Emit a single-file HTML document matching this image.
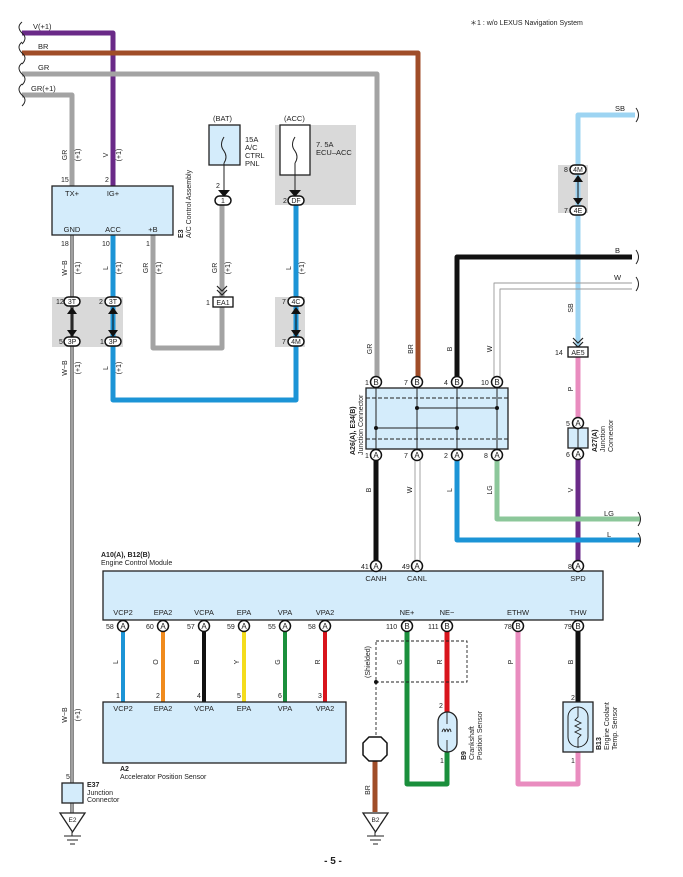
<!DOCTYPE html>
<html><head><meta charset="utf-8"><style>
html,body{margin:0;padding:0;background:#fff}
svg{display:block}
text{font-family:"Liberation Sans",sans-serif;fill:#222}
</style></head><body>
<svg width="683" height="877" viewBox="0 0 683 877" xmlns="http://www.w3.org/2000/svg">
<defs>
<g id="pinA"><circle r="5.5" fill="#fff" stroke="#111" stroke-width="1.5"/><text y="3" text-anchor="middle" font-size="8">A</text></g>
<g id="pinB"><circle r="5.5" fill="#fff" stroke="#111" stroke-width="1.5"/><text y="3" text-anchor="middle" font-size="8">B</text></g>
</defs>
<rect x="275" y="125" width="81" height="80" fill="#d9d9d9"/>
<rect x="52" y="297" width="71" height="50" fill="#d9d9d9"/>
<rect x="275" y="297" width="30" height="50" fill="#d9d9d9"/>
<rect x="558" y="165" width="30" height="48" fill="#d9d9d9"/>
<text x="470" y="25" font-size="7">＊1 : w/o LEXUS Navigation System</text>

<g fill="none" stroke-linejoin="round">
<polyline points="22,33 113,33 113,186" stroke="#6a2a88" stroke-width="5"/>
<polyline points="22,53 418,53 418,377" stroke="#a04d28" stroke-width="5"/>
<polyline points="22,74 377,74 377,377" stroke="#a3a3a3" stroke-width="5"/>
<polyline points="22,95 72,95 72,186" stroke="#a3a3a3" stroke-width="5"/>
<polyline points="72,235 72,813" stroke="#111" stroke-width="3"/>
<polyline points="72,235 72,813" stroke="#fff" stroke-width="1.2"/>
<polyline points="113,235 113,400 296,400 296,205" stroke="#1c94d6" stroke-width="5"/>
<polyline points="153,235 153,348 222,348 222,200" stroke="#a3a3a3" stroke-width="5"/>
<polyline points="635,115 578,115 578,352" stroke="#9dd4f2" stroke-width="5"/>
<polyline points="578,352 578,423" stroke="#e98cbf" stroke-width="5"/>
<polyline points="578,455 578,566" stroke="#6a2a88" stroke-width="5"/>
<polyline points="632,257 457,257 457,377" stroke="#111" stroke-width="5"/>
<polyline points="632,283 494,283 494,377" stroke="#999" stroke-width="0.9"/>
<polyline points="632,289 500,289 500,377" stroke="#999" stroke-width="0.9"/>
<polyline points="376,460 376,566" stroke="#111" stroke-width="5"/>
<polyline points="415,460 415,566" stroke="#999" stroke-width="0.9"/>
<polyline points="420,460 420,566" stroke="#999" stroke-width="0.9"/>
<polyline points="457,460 457,540 640,540" stroke="#1c94d6" stroke-width="5"/>
<polyline points="497,460 497,519 640,519" stroke="#8cc79a" stroke-width="5"/>
<line x1="123" y1="630" x2="123" y2="702" stroke="#1c94d6" stroke-width="4"/>
<line x1="163" y1="630" x2="163" y2="702" stroke="#f08a1c" stroke-width="4"/>
<line x1="204" y1="630" x2="204" y2="702" stroke="#111" stroke-width="4"/>
<line x1="244" y1="630" x2="244" y2="702" stroke="#f4dc1c" stroke-width="4"/>
<line x1="285" y1="630" x2="285" y2="702" stroke="#1a8f3c" stroke-width="4"/>
<line x1="325" y1="630" x2="325" y2="702" stroke="#d8141c" stroke-width="4"/>
<polyline points="407,630 407,784 447,784 447,752" stroke="#1a8f3c" stroke-width="5"/>
<polyline points="447,630 447,712" stroke="#d8141c" stroke-width="5"/>
<polyline points="518,630 518,784 578,784 578,752" stroke="#e98cbf" stroke-width="5"/>
<polyline points="578,630 578,702" stroke="#111" stroke-width="5"/>
<polyline points="375,760 375,812" stroke="#a04d28" stroke-width="5"/>
<rect x="376" y="641" width="91" height="41" stroke="#222" stroke-width="0.9" stroke-dasharray="3,2"/>
<line x1="376" y1="682" x2="376" y2="737" stroke="#222" stroke-width="0.9" stroke-dasharray="3,2"/>
</g>
<circle cx="376" cy="682" r="2" fill="#111"/>
<polygon points="369,737 381,737 387,743 387,755 381,761 369,761 363,755 363,743" fill="#fff" stroke="#111" stroke-width="1.5"/>

<g fill="none" stroke="#222" stroke-width="1">
<path d="M22,22 q-6,5 0,11 q6,5 0,11"/>
<path d="M22,42 q-6,5 0,11 q6,5 0,11"/>
<path d="M22,63 q-6,5 0,11 q6,5 0,11"/>
<path d="M22,84 q-6,5 0,11 q6,5 0,11"/>
<path d="M636,108 q5,7 0,14"/><path d="M636,250 q5,7 0,14"/><path d="M636,277 q5,7 0,14"/>
<path d="M638,512 q5,7 0,14"/><path d="M638,533 q5,7 0,14"/>
</g>

<g font-size="7.5">
<text x="33" y="29">V(+1)</text><text x="38" y="49">BR</text><text x="38" y="70">GR</text><text x="31" y="91">GR(+1)</text>
<text x="615" y="111">SB</text><text x="615" y="253">B</text><text x="614" y="280">W</text>
<text x="604" y="516">LG</text><text x="607" y="537">L</text>
</g>
<g font-size="7" text-anchor="middle">
<text transform="translate(67,155) rotate(-90)">GR</text><text transform="translate(80,155) rotate(-90)">(+1)</text>
<text transform="translate(108,155) rotate(-90)">V</text><text transform="translate(121,155) rotate(-90)">(+1)</text>
<text transform="translate(67,268) rotate(-90)">W−B</text><text transform="translate(80,268) rotate(-90)">(+1)</text>
<text transform="translate(108,268) rotate(-90)">L</text><text transform="translate(121,268) rotate(-90)">(+1)</text>
<text transform="translate(148,268) rotate(-90)">GR</text><text transform="translate(161,268) rotate(-90)">(+1)</text>
<text transform="translate(217,268) rotate(-90)">GR</text><text transform="translate(230,268) rotate(-90)">(+1)</text>
<text transform="translate(291,268) rotate(-90)">L</text><text transform="translate(304,268) rotate(-90)">(+1)</text>
<text transform="translate(67,368) rotate(-90)">W−B</text><text transform="translate(80,368) rotate(-90)">(+1)</text>
<text transform="translate(108,368) rotate(-90)">L</text><text transform="translate(121,368) rotate(-90)">(+1)</text>
<text transform="translate(67,715) rotate(-90)">W−B</text><text transform="translate(80,715) rotate(-90)">(+1)</text>
<text transform="translate(372,349) rotate(-90)">GR</text><text transform="translate(413,349) rotate(-90)">BR</text>
<text transform="translate(452,349) rotate(-90)">B</text><text transform="translate(492,349) rotate(-90)">W</text>
<text transform="translate(573,308) rotate(-90)">SB</text><text transform="translate(573,389) rotate(-90)">P</text>
<text transform="translate(573,490) rotate(-90)">V</text>
<text transform="translate(371,490) rotate(-90)">B</text><text transform="translate(412,490) rotate(-90)">W</text>
<text transform="translate(452,490) rotate(-90)">L</text><text transform="translate(492,490) rotate(-90)">LG</text>
<text transform="translate(118,662) rotate(-90)">L</text><text transform="translate(158,662) rotate(-90)">O</text>
<text transform="translate(199,662) rotate(-90)">B</text><text transform="translate(239,662) rotate(-90)">Y</text>
<text transform="translate(280,662) rotate(-90)">G</text><text transform="translate(320,662) rotate(-90)">R</text>
<text transform="translate(402,662) rotate(-90)">G</text><text transform="translate(442,662) rotate(-90)">R</text>
<text transform="translate(513,662) rotate(-90)">P</text><text transform="translate(573,662) rotate(-90)">B</text>
<text transform="translate(370,790) rotate(-90)">BR</text>
<text transform="translate(370,662) rotate(-90)">(Shielded)</text>
</g>

<rect x="52" y="186" width="121" height="49" fill="#d4ecfb" stroke="#222" stroke-width="1.3"/>
<g font-size="7.5" text-anchor="middle">
<text x="72" y="196">TX+</text><text x="113" y="196">IG+</text>
<text x="72" y="232">GND</text><text x="113" y="232">ACC</text><text x="153" y="232">+B</text>
</g>
<g font-size="7"><text x="61" y="182">15</text><text x="105" y="182">2</text>
<text x="61" y="246">18</text><text x="102" y="246">10</text><text x="146" y="246">1</text></g>
<text transform="translate(183,238) rotate(-90)" font-size="7"><tspan font-weight="bold">E3</tspan><tspan x="0" dy="8">A/C Control Assembly</tspan></text>

<rect x="209" y="125" width="31" height="40" fill="#d4ecfb" stroke="#222" stroke-width="1.3"/>
<rect x="280" y="125" width="30" height="50" fill="#fff" stroke="#222" stroke-width="1.3"/>
<g fill="none" stroke="#222" stroke-width="1"><path d="M224,137 q-5,8 0,14 q4,6 0,12"/><path d="M295,137 q-5,8 0,14 q4,6 0,12"/>
<line x1="224" y1="163" x2="224" y2="193"/><line x1="295" y1="163" x2="295" y2="193"/></g>
<g font-size="7.5"><text x="213" y="121">(BAT)</text><text x="284" y="121">(ACC)</text>
<text x="245" y="142">15A</text><text x="245" y="150">A/C</text><text x="245" y="158">CTRL</text><text x="245" y="166">PNL</text>
<text x="316" y="147">7. 5A</text><text x="316" y="155">ECU–ACC</text>
<text x="216" y="188" font-size="7">2</text></g>
<g fill="#111"><polygon points="218,190 230,190 224,197"/><polygon points="289,190 301,190 295,197"/></g>

<g font-size="7" text-anchor="middle">
<g stroke="#111" stroke-width="1.5" fill="#fff">
<rect x="215" y="196" width="16" height="9" rx="4.5"/>
<rect x="288" y="196" width="16" height="9" rx="4.5"/>
<rect x="64" y="297" width="16" height="9" rx="4.5"/><rect x="105" y="297" width="16" height="9" rx="4.5"/>
<rect x="64" y="337" width="16" height="9" rx="4.5"/><rect x="105" y="337" width="16" height="9" rx="4.5"/>
<rect x="288" y="297" width="16" height="9" rx="4.5"/><rect x="288" y="337" width="16" height="9" rx="4.5"/>
<rect x="570" y="165" width="16" height="9" rx="4.5"/><rect x="570" y="206" width="16" height="9" rx="4.5"/>
</g>
<text x="223" y="203">1</text><text x="296" y="203">DF</text>
<text x="72" y="304">3T</text><text x="113" y="304">3T</text><text x="72" y="344">3P</text><text x="113" y="344">3P</text>
<text x="296" y="304">4C</text><text x="296" y="344">4M</text>
<text x="578" y="172">4M</text><text x="578" y="213">4E</text>
</g>
<g font-size="7"><text x="283" y="203">2</text><text x="56" y="304">12</text><text x="99" y="304">2</text>
<text x="59" y="344">5</text><text x="100" y="344">1</text><text x="282" y="304">7</text><text x="282" y="344">7</text>
<text x="564" y="172">8</text><text x="564" y="213">7</text></g>
<g stroke="#111" stroke-width="1"><line x1="72" y1="310" x2="72" y2="334"/><line x1="113" y1="310" x2="113" y2="334"/>
<line x1="296" y1="310" x2="296" y2="334"/><line x1="578" y1="178" x2="578" y2="202"/></g>
<g fill="#111">
<polygon points="67,314 72,307 77,314"/><polygon points="67,330 72,337 77,330"/>
<polygon points="108,314 113,307 118,314"/><polygon points="108,330 113,337 118,330"/>
<polygon points="291,314 296,307 301,314"/><polygon points="291,330 296,337 301,330"/>
<polygon points="573,182 578,175 583,182"/><polygon points="573,198 578,205 583,198"/>
</g>
<g fill="none" stroke="#222" stroke-width="1.2"><polyline points="217,286 222,291 227,286"/><polyline points="217,290 222,295 227,290"/>
<polyline points="573,338 578,343 583,338"/><polyline points="573,342 578,347 583,342"/></g>
<rect x="213" y="297" width="20" height="10" fill="#fff" stroke="#111" stroke-width="1.3"/>
<text x="223" y="305" font-size="7" text-anchor="middle">EA1</text><text x="206" y="305" font-size="7">1</text>
<rect x="568" y="347" width="20" height="10" fill="#fff" stroke="#111" stroke-width="1.3"/>
<text x="578" y="355" font-size="7" text-anchor="middle">AE5</text><text x="555" y="355" font-size="7">14</text>

<rect x="366" y="388" width="142" height="61" fill="#d4ecfb" stroke="#222" stroke-width="1.3"/>
<g stroke="#222" stroke-width="1"><line x1="366" y1="398" x2="508" y2="398" stroke-dasharray="4,2"/><line x1="366" y1="439" x2="508" y2="439" stroke-dasharray="4,2"/>
<line x1="376" y1="388" x2="376" y2="449"/><line x1="417" y1="388" x2="417" y2="449"/><line x1="457" y1="388" x2="457" y2="449"/><line x1="497" y1="388" x2="497" y2="449"/>
<line x1="417" y1="408" x2="497" y2="408"/><line x1="376" y1="428" x2="457" y2="428"/></g>
<g fill="#111"><circle cx="417" cy="408" r="2"/><circle cx="497" cy="408" r="2"/><circle cx="376" cy="428" r="2"/><circle cx="457" cy="428" r="2"/></g>
<use href="#pinB" x="376" y="382"/><use href="#pinB" x="417" y="382"/><use href="#pinB" x="457" y="382"/><use href="#pinB" x="497" y="382"/>
<use href="#pinA" x="376" y="455"/><use href="#pinA" x="417" y="455"/><use href="#pinA" x="457" y="455"/><use href="#pinA" x="497" y="455"/>
<g font-size="7"><text x="365" y="385">1</text><text x="404" y="385">7</text><text x="444" y="385">4</text><text x="481" y="385">10</text>
<text x="365" y="458">1</text><text x="404" y="458">7</text><text x="444" y="458">2</text><text x="484" y="458">8</text></g>
<text transform="translate(355,455) rotate(-90)" font-size="7"><tspan font-weight="bold">A26(A), E34(B)</tspan><tspan x="0" dy="8">Junction Connector</tspan></text>
<rect x="568" y="428" width="20" height="20" fill="#d4ecfb" stroke="#222" stroke-width="1.3"/>
<line x1="578" y1="428" x2="578" y2="448" stroke="#222"/>
<use href="#pinA" x="578" y="423"/><use href="#pinA" x="578" y="454"/>
<g font-size="7"><text x="566" y="426">5</text><text x="566" y="457">6</text></g>
<text transform="translate(597,452) rotate(-90)" font-size="7"><tspan font-weight="bold">A27(A)</tspan><tspan x="0" dy="8">Junction</tspan><tspan x="0" dy="8">Connector</tspan></text>

<rect x="103" y="571" width="500" height="49" fill="#d4ecfb" stroke="#222" stroke-width="1.3"/>
<text x="101" y="557" font-size="7" font-weight="bold">A10(A), B12(B)</text>
<text x="101" y="565" font-size="7">Engine Control Module</text>
<use href="#pinA" x="376" y="566"/><use href="#pinA" x="417" y="566"/><use href="#pinA" x="578" y="566"/>
<g font-size="7"><text x="361" y="569">41</text><text x="402" y="569">49</text><text x="568" y="569">8</text></g>
<g font-size="7.5" text-anchor="middle">
<text x="376" y="581">CANH</text><text x="417" y="581">CANL</text><text x="578" y="581">SPD</text>
<text x="123" y="615">VCP2</text><text x="163" y="615">EPA2</text><text x="204" y="615">VCPA</text><text x="244" y="615">EPA</text>
<text x="285" y="615">VPA</text><text x="325" y="615">VPA2</text><text x="407" y="615">NE+</text><text x="447" y="615">NE−</text>
<text x="518" y="615">ETHW</text><text x="578" y="615">THW</text>
</g>
<use href="#pinA" x="123" y="626"/><use href="#pinA" x="163" y="626"/><use href="#pinA" x="204" y="626"/><use href="#pinA" x="244" y="626"/><use href="#pinA" x="285" y="626"/><use href="#pinA" x="325" y="626"/>
<use href="#pinB" x="407" y="626"/><use href="#pinB" x="447" y="626"/><use href="#pinB" x="518" y="626"/><use href="#pinB" x="578" y="626"/>
<g font-size="7"><text x="106" y="629">58</text><text x="146" y="629">60</text><text x="187" y="629">57</text><text x="227" y="629">59</text>
<text x="268" y="629">55</text><text x="308" y="629">58</text><text x="386" y="629">110</text><text x="428" y="629">111</text>
<text x="504" y="629">78</text><text x="564" y="629">79</text></g>

<rect x="103" y="702" width="243" height="61" fill="#d4ecfb" stroke="#222" stroke-width="1.3"/>
<g font-size="7.5" text-anchor="middle">
<text x="123" y="711">VCP2</text><text x="163" y="711">EPA2</text><text x="204" y="711">VCPA</text><text x="244" y="711">EPA</text><text x="285" y="711">VPA</text><text x="325" y="711">VPA2</text></g>
<g font-size="7"><text x="116" y="698">1</text><text x="156" y="698">2</text><text x="197" y="698">4</text><text x="237" y="698">5</text><text x="278" y="698">6</text><text x="318" y="698">3</text></g>
<text x="120" y="771" font-size="7" font-weight="bold">A2</text>
<text x="120" y="779" font-size="7">Accelerator Position Sensor</text>

<rect x="438" y="712" width="19" height="40" rx="9.5" fill="#d4ecfb" stroke="#222" stroke-width="1.3"/>
<path d="M447,712 v12 M447,740 v12 M442,732 q2,-6 3,0 q2,-6 3,0 q2,-6 3,0" fill="none" stroke="#222" stroke-width="0.9"/>
<g font-size="7"><text x="439" y="708">2</text><text x="440" y="763">1</text><text x="571" y="700">2</text><text x="571" y="763">1</text></g>
<text transform="translate(466,760) rotate(-90)" font-size="7"><tspan font-weight="bold">B9</tspan><tspan x="0" dy="8">Crankshaft</tspan><tspan x="0" dy="8">Position Sensor</tspan></text>
<rect x="563" y="702" width="30" height="50" fill="#d4ecfb" stroke="#222" stroke-width="1.3"/>
<rect x="568" y="707" width="20" height="40" rx="10" fill="none" stroke="#222" stroke-width="1"/>
<path d="M578,707 v10 l-3,3 l6,3 l-6,3 l6,3 l-6,3 l6,3 l-3,3 v10" fill="none" stroke="#222" stroke-width="0.9"/>
<text transform="translate(601,750) rotate(-90)" font-size="7"><tspan font-weight="bold">B13</tspan><tspan x="0" dy="8">Engine Coolant</tspan><tspan x="0" dy="8">Temp.  Sensor</tspan></text>

<rect x="62" y="783" width="21" height="20" fill="#d4ecfb" stroke="#222" stroke-width="1.3"/>
<text x="66" y="779" font-size="7">5</text>
<text x="87" y="787" font-size="7" font-weight="bold">E37</text>
<text x="87" y="795" font-size="7">Junction</text><text x="87" y="802" font-size="7">Connector</text>
<g fill="#fff" stroke="#222" stroke-width="1.3">
<polygon points="60,813 85,813 72.5,832"/><polygon points="363,813 388,813 375.5,832"/></g>
<g stroke="#222" stroke-width="1"><line x1="72" y1="832" x2="72" y2="836"/><line x1="64" y1="836" x2="81" y2="836"/><line x1="67" y1="840" x2="78" y2="840"/><line x1="70" y1="844" x2="75" y2="844"/>
<line x1="375" y1="832" x2="375" y2="836"/><line x1="367" y1="836" x2="384" y2="836"/><line x1="370" y1="840" x2="381" y2="840"/><line x1="373" y1="844" x2="378" y2="844"/></g>
<g font-size="6.5" text-anchor="middle"><text x="72.5" y="822">E2</text><text x="375.5" y="822">B2</text></g>
<text x="333" y="864" font-size="10" font-weight="bold" text-anchor="middle">- 5 -</text>
</svg>
</body></html>
